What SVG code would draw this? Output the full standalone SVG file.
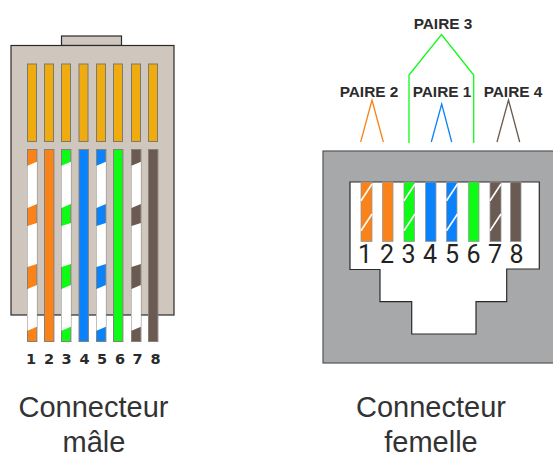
<svg xmlns="http://www.w3.org/2000/svg" xmlns:xlink="http://www.w3.org/1999/xlink" width="553" height="455" viewBox="0 0 553 455">
<style>
text{font-family:"Liberation Sans",Arial,sans-serif}
.body{fill:#cfc7be;stroke:#2a2a2a;stroke-width:1.2}
.pin{fill:#f0ac0e;stroke:#7a7a70;stroke-width:1}
.w{stroke:#85807a;stroke-width:1}
.f{stroke:#9a9a9a;stroke-width:.8}
.o{fill:#f98319}.g{fill:#0dfb14}.b{fill:#0a82fb}.n{fill:#6a5a52}
.num{font-family:"DejaVu Sans",sans-serif;font-weight:bold;font-size:14.5px;fill:#2a2a2a;text-anchor:middle}
.dig{font-family:"Roboto",sans-serif;font-weight:400;font-size:25px;fill:#222;text-anchor:middle}
.pair{font-weight:bold;font-size:15.4px;fill:#2b2b2b;text-anchor:middle}
.cap{font-size:29px;fill:#333;text-anchor:middle}
.lnk{fill:none;stroke-width:1.3}
.sl{stroke:#fff;stroke-width:1.6;fill:none}
</style>
<defs>
<g id="stripes"><path fill="#fff" d="M0 165.7L9.4 161.7V204L0 208ZM0 226L9.4 223V264L0 267ZM0 289L9.4 285V326.7L0 330.7Z"/></g>
<g id="fstripes"><path class="sl" d="M0 200.7L11 184M0 230.7L11 214"/></g>
</defs>
<g id="male-connector">
<rect class="body" x="61.5" y="36" width="60" height="9.5"/>
<rect class="body" x="11" y="45.5" width="163" height="269.5"/>
<g id="male-pins">
<rect class="pin" x="27.5" y="64" width="9" height="77.5"/>
<rect class="pin" x="44.5" y="64" width="9" height="77.5"/>
<rect class="pin" x="61.5" y="64" width="9" height="77.5"/>
<rect class="pin" x="79" y="64" width="9" height="77.5"/>
<rect class="pin" x="96.5" y="64" width="9" height="77.5"/>
<rect class="pin" x="113.5" y="64" width="9" height="77.5"/>
<rect class="pin" x="131.5" y="64" width="9" height="77.5"/>
<rect class="pin" x="148.5" y="64" width="9" height="77.5"/>
</g>
<g id="male-wires">
<rect class="w o" x="27.5" y="149.5" width="9.4" height="192"/><use xlink:href="#stripes" href="#stripes" x="27.5"/>
<rect class="w o" x="44.5" y="149.5" width="9.4" height="192"/>
<rect class="w g" x="61.5" y="149.5" width="9.4" height="192"/><use xlink:href="#stripes" href="#stripes" x="61.5"/>
<rect class="w b" x="79" y="149.5" width="9.4" height="192"/>
<rect class="w b" x="96.5" y="149.5" width="9.4" height="192"/><use xlink:href="#stripes" href="#stripes" x="96.5"/>
<rect class="w g" x="113.5" y="149.5" width="9.4" height="192"/>
<rect class="w n" x="131.5" y="149.5" width="9.4" height="192"/><use xlink:href="#stripes" href="#stripes" x="131.5"/>
<rect class="w n" x="148.5" y="149.5" width="9.4" height="192"/>
</g>
<g id="male-numbers">
<text class="num" x="31" y="364">1</text><text class="num" x="49" y="364">2</text><text class="num" x="66.5" y="364">3</text><text class="num" x="84.5" y="364">4</text><text class="num" x="102" y="364">5</text><text class="num" x="120" y="364">6</text><text class="num" x="137.5" y="364">7</text><text class="num" x="155.5" y="364">8</text>
</g>
<text class="cap" x="93.5" y="416.5">Connecteur</text>
<text class="cap" x="94" y="451.5">mâle</text>
</g>
<g id="connectors">
<path class="lnk" stroke="#f98319" d="M360.7 142L372 100L383.3 142"/>
<path class="lnk" stroke="#0a82fb" d="M431.3 142L441.7 104L451.7 142"/>
<path class="lnk" stroke="#6a5a52" d="M497 142L508.5 100L519.7 142"/>
<path class="lnk" stroke="#0dfb14" d="M409 143V75L441.5 34.5L473.7 75V143"/>
</g>
<g id="pair-labels">
<text class="pair" x="443" y="29">PAIRE 3</text>
<text class="pair" x="369" y="96.5">PAIRE 2</text>
<text class="pair" x="442" y="96.5">PAIRE 1</text>
<text class="pair" x="513" y="96.5">PAIRE 4</text>
</g>
<g id="female-connector">
<rect x="323" y="151" width="232" height="212" fill="#a7a8aa" stroke="#555" stroke-width="1.2"/>
<path fill="#fff" stroke="#2a2a2a" stroke-width="1.2" d="M350 182H539.3V269H506.7V301.7H476V334H411.7V301.7H380V269.5H350Z"/>
<g id="female-wires">
<rect class="f o" x="361" y="182" width="11" height="59.5"/><use xlink:href="#fstripes" href="#fstripes" x="361"/>
<rect class="f o" x="382.5" y="182" width="10.5" height="59.5"/>
<rect class="f g" x="404" y="182" width="10.5" height="59.5"/><use xlink:href="#fstripes" href="#fstripes" x="404"/>
<rect class="f b" x="425.5" y="182" width="10.5" height="59.5"/>
<rect class="f b" x="446.5" y="182" width="10.5" height="59.5"/><use xlink:href="#fstripes" href="#fstripes" x="446.5"/>
<rect class="f g" x="468.5" y="182" width="10.5" height="59.5"/>
<rect class="f n" x="490" y="182" width="11" height="59.5"/><use xlink:href="#fstripes" href="#fstripes" x="490"/>
<rect class="f n" x="510.5" y="182" width="10.5" height="59.5"/>
</g>
<g id="female-numbers">
<text class="dig" x="365" y="263">1</text><text class="dig" x="387" y="263">2</text><text class="dig" x="408.5" y="263">3</text><text class="dig" x="430" y="263">4</text><text class="dig" x="452" y="263">5</text><text class="dig" x="473.5" y="263">6</text><text class="dig" x="495" y="263">7</text><text class="dig" x="516.5" y="263">8</text>
</g>
<text class="cap" x="431" y="416.5">Connecteur</text>
<text class="cap" x="431" y="451.5">femelle</text>
</g>
</svg>
